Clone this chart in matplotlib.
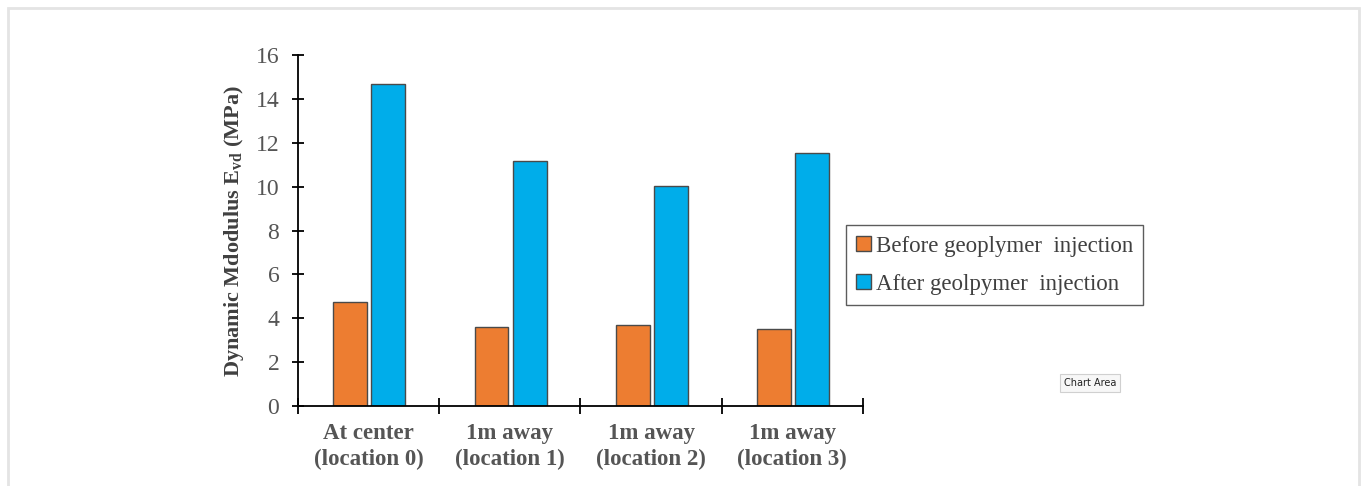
import matplotlib.pyplot as plt
import numpy as np
from matplotlib.patches import Rectangle

plt.rcParams['font.family'] = ['Liberation Serif', 'DejaVu Serif']
plt.rcParams['mathtext.fontset'] = 'custom'
plt.rcParams['mathtext.rm'] = 'Liberation Serif'
plt.rcParams['mathtext.bf'] = 'Liberation Serif:bold'

locations = ['At center\n(location 0)', '1m away\n(location 1)',
             '1m away\n(location 2)', '1m away\n(location 3)']
before = [4.74, 3.62, 3.70, 3.51]
after = [14.68, 11.15, 10.02, 11.52]
series_names = ['Before geoplymer  injection', 'After geolpymer  injection']

fig = plt.figure(figsize=(13.61, 4.86), dpi=100)
ax = fig.add_axes([0.219, 0.1646, 0.415, 0.7222])

x = np.arange(len(locations))
w = 0.24
ax.bar(x - 0.13, before, w, color='#ED7D31', edgecolor='#4a4a4a', linewidth=1.0,
       label=series_names[0])
ax.bar(x + 0.14, after, w, color='#00ADEA', edgecolor='#4a4a4a', linewidth=1.0,
       label=series_names[1])

ax.set_xlim(-0.5, len(locations) - 0.5)
ax.set_ylim(0, 16)
ax.set_yticks(np.arange(0, 17, 2))

for s in ['top', 'right']:
    ax.spines[s].set_visible(False)
for s in ['left', 'bottom']:
    ax.spines[s].set_linewidth(1.3)
    ax.spines[s].set_color('black')

ax.tick_params(axis='y', direction='inout', length=9, width=1.3, labelsize=17,
               labelcolor='#555555', pad=9)
ax.set_xticks(x)
ax.set_xticklabels(locations, fontweight='bold', fontsize=16.5, color='#555555',
                   linespacing=1.3)
ax.set_xticks(np.arange(-0.5, len(locations)), minor=True)
ax.tick_params(axis='x', which='major', length=0, pad=12)
ax.tick_params(axis='x', which='minor', direction='inout', length=12, width=1.3)

ax.set_ylabel('Dynamic Mdodulus ' + r'$\mathbf{E_{vd}}$' + ' (MPa)',
              fontweight='bold', fontsize=16, color='#404040', labelpad=7)

leg = fig.legend(loc='lower left', bbox_to_anchor=(0.6216, 0.372),
                 frameon=True, fancybox=False, fontsize=16.5, labelcolor='#404040',
                 handlelength=0.65, handleheight=0.65, handletextpad=0.2,
                 labelspacing=0.75, borderpad=0.45, borderaxespad=0)
leg.get_frame().set_edgecolor('#333333')
leg.get_frame().set_linewidth(1.0)

# thin border of the sheet
fig.patches.append(Rectangle((8 / 1361, -0.05), 1351 / 1361, 1.05 - 8 / 486,
                             transform=fig.transFigure, fill=False,
                             edgecolor='#e4e4e4', linewidth=2))

fig.text(1090 / 1361, 1 - 383 / 486, 'Chart Area', fontsize=7, family='DejaVu Sans',
         ha='center', va='center', color='#222222',
         bbox=dict(boxstyle='square,pad=0.4', facecolor='#f7f7f7',
                   edgecolor='#d0d0d0', linewidth=0.8))

fig.savefig('out.png', dpi=100)
